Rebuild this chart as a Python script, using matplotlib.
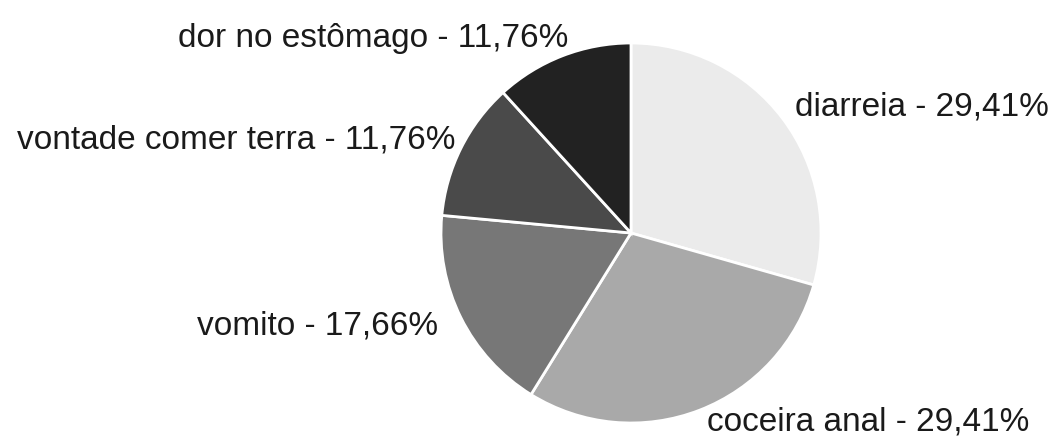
import matplotlib.pyplot as plt
from matplotlib.transforms import offset_copy

labels = ["diarreia", "coceira anal", "vomito", "vontade comer terra", "dor no estômago"]
values = [29.41, 29.41, 17.66, 11.76, 11.76]
colors = ["#ebebeb", "#a9a9a9", "#777777", "#4a4a4a", "#222222"]

plt.rcParams['font.family'] = ['Liberation Sans', 'DejaVu Sans']

fig = plt.figure(figsize=(10.51, 4.41), dpi=100)
ax = fig.add_axes([0, 0, 1, 1])

texts = [f"{name} - {v:.2f}".replace(".", ",") + "%" for name, v in zip(labels, values)]
wedges, label_texts = ax.pie(values, labels=texts, colors=colors, startangle=90,
                             counterclock=False, labeldistance=1.1,
                             wedgeprops=dict(edgecolor="white", linewidth=2),
                             textprops=dict(fontsize=24, color="#1a1a1a"))

# small nudges (in points) so the labels sit a bit closer to the pie
nudge = [(-2, 0), (0, 4), (-4, 0), (8, 0), (9, 0)]
for t, (dx, dy) in zip(label_texts, nudge):
    t.set_transform(offset_copy(t.get_transform(), fig=fig, x=dx, y=dy, units='points'))

# pie centre at (631, 233) px, radius 190 px
r = 190.0
ax.set_xlim(-631 / r, (1051 - 631) / r)
ax.set_ylim(-(441 - 233) / r, 233 / r)
ax.set_aspect('equal', adjustable='box')
ax.axis('off')

fig.savefig("out.png", dpi=100, facecolor="white")
